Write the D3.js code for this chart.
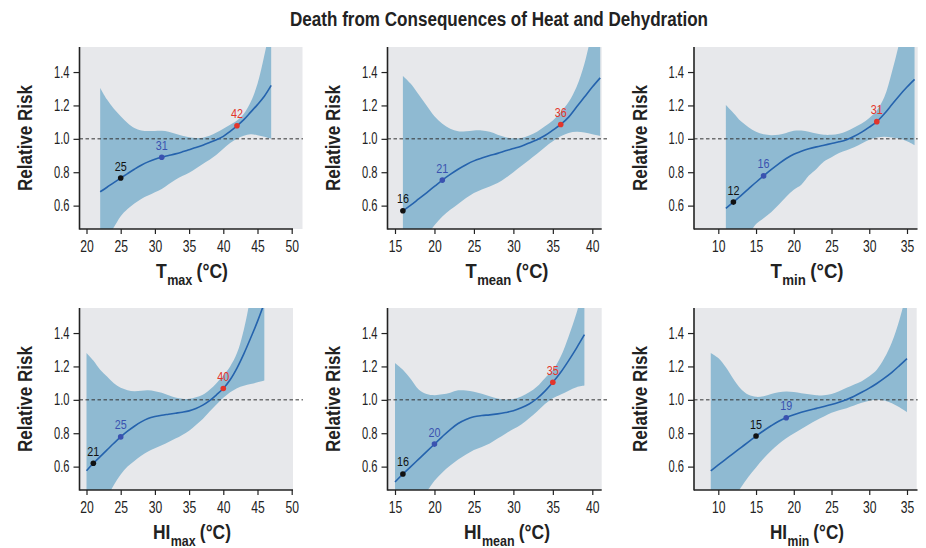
<!DOCTYPE html>
<html><head><meta charset="utf-8">
<script src="https://cdn.jsdelivr.net/npm/d3@7"></script>
<style>
body{margin:0;background:#fff;}
svg{display:block;}
</style></head><body>
<svg id="chart" width="926" height="548"></svg>
<script>
// Relative risk of death from heat and dehydration, with 95% confidence bands,
// for six temperature metrics (spline fits evaluated at whole degrees).

const titleText = "Death from Consequences of Heat and Dehydration";

const tmaxTemp  = [22,23,24,25,26,27,28,29,30,31,32,33,34,35,36,37,38,39,40,41,42,43,44,45,46,47];
const tmaxRR    = [0.683,0.71,0.738,0.765,0.792,0.818,0.842,0.862,0.878,0.89,0.9,0.91,0.922,0.935,0.948,0.962,0.978,0.995,1.015,1.045,1.078,1.115,1.16,1.205,1.255,1.32];
const tmaxLower = [0.33,0.40,0.47,0.537,0.58,0.613,0.64,0.66,0.68,0.70,0.728,0.755,0.777,0.797,0.823,0.85,0.875,0.905,0.94,0.975,1.0,1.018,1.027,1.022,1.012,1.0];
const tmaxUpper = [1.305,1.235,1.18,1.135,1.095,1.065,1.05,1.047,1.047,1.048,1.043,1.03,1.018,1.01,1.005,1.007,1.018,1.038,1.06,1.085,1.11,1.15,1.22,1.33,1.5,1.7];
const tmaxMarks = [25,31,42];

const tmeanTemp  = [16,17,18,19,20,21,22,23,24,25,26,27,28,29,30,31,32,33,34,35,36,37,38,39,40,41];
const tmeanRR    = [0.569,0.603,0.64,0.677,0.715,0.753,0.787,0.818,0.845,0.868,0.885,0.9,0.913,0.928,0.942,0.956,0.975,0.995,1.02,1.052,1.086,1.13,1.19,1.25,1.31,1.365];
const tmeanLower = [0.2,0.28,0.35,0.42,0.483,0.535,0.575,0.61,0.645,0.675,0.697,0.715,0.735,0.765,0.80,0.837,0.873,0.91,0.95,0.985,1.015,1.035,1.042,1.038,1.028,1.018];
const tmeanUpper = [1.377,1.33,1.265,1.2,1.135,1.09,1.06,1.045,1.045,1.05,1.05,1.042,1.025,1.01,1.003,1.005,1.02,1.043,1.075,1.11,1.16,1.22,1.31,1.45,1.65,1.85];
const tmeanMarks = [16,21,36];

const tminTemp  = [11,12,13,14,15,16,17,18,19,20,21,22,23,24,25,26,27,28,29,30,31,32,33,34,35,36];
const tminRR    = [0.583,0.621,0.66,0.70,0.74,0.778,0.815,0.85,0.882,0.908,0.925,0.94,0.952,0.962,0.972,0.982,0.995,1.015,1.04,1.07,1.103,1.15,1.205,1.26,1.31,1.356];
const tminLower = [0.2,0.28,0.35,0.42,0.49,0.525,0.56,0.605,0.653,0.695,0.725,0.78,0.82,0.865,0.89,0.915,0.932,0.95,0.972,0.995,1.008,1.012,1.008,1.0,0.985,0.962];
const tminUpper = [1.202,1.155,1.105,1.07,1.042,1.027,1.022,1.025,1.035,1.048,1.05,1.043,1.032,1.024,1.024,1.03,1.045,1.068,1.092,1.125,1.17,1.25,1.40,1.58,1.8,2.0];
const tminMarks = [12,16,31];

const himaxTemp  = [20,21,22,23,24,25,26,27,28,29,30,31,32,33,34,35,36,37,38,39,40,41,42,43,44,45,46];
const himaxRR    = [0.575,0.62,0.66,0.70,0.74,0.778,0.812,0.842,0.868,0.888,0.9,0.908,0.914,0.92,0.926,0.934,0.948,0.968,0.995,1.03,1.068,1.12,1.19,1.275,1.37,1.47,1.58];
const himaxLower = [0.3,0.34,0.38,0.42,0.49,0.553,0.6,0.633,0.665,0.69,0.71,0.728,0.748,0.768,0.79,0.815,0.85,0.885,0.93,0.972,1.012,1.045,1.07,1.085,1.095,1.105,1.116];
const himaxUpper = [1.28,1.235,1.18,1.14,1.1,1.072,1.058,1.052,1.055,1.057,1.052,1.043,1.028,1.014,1.006,1.006,1.015,1.03,1.06,1.1,1.145,1.2,1.28,1.42,1.62,1.82,2.0];
const himaxMarks = [21,25,40];

const himeanTemp  = [15,16,17,18,19,20,21,22,23,24,25,26,27,28,29,30,31,32,33,34,35,36,37,38,39];
const himeanRR    = [0.508,0.556,0.6,0.645,0.69,0.735,0.78,0.822,0.858,0.882,0.899,0.906,0.91,0.916,0.924,0.934,0.952,0.975,1.008,1.052,1.105,1.165,1.235,1.31,1.39];
const himeanLower = [0.25,0.3,0.35,0.4,0.45,0.515,0.565,0.606,0.642,0.672,0.7,0.718,0.738,0.768,0.797,0.825,0.853,0.89,0.93,0.975,1.01,1.032,1.055,1.076,1.086];
const himeanUpper = [1.221,1.18,1.125,1.062,1.035,1.028,1.033,1.043,1.057,1.056,1.048,1.036,1.022,1.008,1.002,1.005,1.02,1.045,1.08,1.13,1.178,1.26,1.38,1.52,1.7];
const himeanMarks = [16,20,35];

const himinTemp  = [9,10,11,12,13,14,15,16,17,18,19,20,21,22,23,24,25,26,27,28,29,30,31,32,33,34,35];
const himinRR    = [0.574,0.61,0.645,0.68,0.714,0.748,0.783,0.815,0.845,0.872,0.893,0.91,0.925,0.938,0.949,0.96,0.972,0.986,1.002,1.022,1.045,1.07,1.098,1.13,1.165,1.205,1.247];
const himinLower = [0.25,0.3,0.36,0.41,0.475,0.54,0.595,0.648,0.695,0.735,0.77,0.798,0.826,0.853,0.878,0.9,0.922,0.938,0.95,0.966,0.982,0.995,1.0,0.996,0.98,0.955,0.926];
const himinUpper = [1.281,1.25,1.195,1.125,1.065,1.03,1.018,1.022,1.035,1.045,1.05,1.047,1.04,1.033,1.027,1.028,1.035,1.052,1.072,1.092,1.112,1.141,1.18,1.25,1.345,1.48,1.65];
const himinMarks = [15,19];

const yTicks = [0.6, 0.8, 1.0, 1.2, 1.4];
const xTicksMax  = [20,25,30,35,40,45,50];
const xTicksMean = [15,20,25,30,35,40];
const xTicksMin  = [10,15,20,25,30,35];

const metricNames = ["T","T","T","HI","HI","HI"];
const metricSubs  = ["max","mean","min","max","mean","min"];
const yTitle = "Relative Risk";
const unitText = "(°C)";

// colours of the reference-point markers: low, mid, high percentile
const markColors = ["#111111", "#3a52b0", "#e2352b"];

const SANS = "'Liberation Sans',Arial,Helvetica,sans-serif";

// ---- layout ----
const rows = [{bottom: 229}, {bottom: 490}];
const plotH = 182;
const cols = [
  {left: 79.5,  t: [20, 50], p: [86.5, 291.7], grayRight: [302.5, 293],   axisRight: 293,   dashRight: 303,   yLabX: 32,    xLabX: 192},
  {left: 387.5, t: [15, 40], p: [395, 592.3],  grayRight: [601.7, 601.7], axisRight: 601.7, dashRight: 609,   yLabX: 340,   xLabX: 507},
  {left: 694,   t: [10, 35], p: [718.3, 907],  grayRight: [917.7, 916.7], axisRight: 917.5, dashRight: 917.7, yLabX: 646.5, xLabX: 807}
];
// condensed widths of the x-axis titles
const xTitleWidths = [72, 83, 73, 78, 86, 74];

const panels = [
  {temp: tmaxTemp,  rr: tmaxRR,  lo: tmaxLower,  hi: tmaxUpper,  marks: tmaxMarks,  ticks: xTicksMax},
  {temp: tmeanTemp, rr: tmeanRR, lo: tmeanLower, hi: tmeanUpper, marks: tmeanMarks, ticks: xTicksMean},
  {temp: tminTemp,  rr: tminRR,  lo: tminLower,  hi: tminUpper,  marks: tminMarks,  ticks: xTicksMin},
  {temp: himaxTemp, rr: himaxRR, lo: himaxLower, hi: himaxUpper, marks: himaxMarks, ticks: xTicksMax},
  {temp: himeanTemp,rr: himeanRR,lo: himeanLower,hi: himeanUpper,marks: himeanMarks,ticks: xTicksMean},
  {temp: himinTemp, rr: himinRR, lo: himinLower, hi: himinUpper, marks: himinMarks, ticks: xTicksMin}
];

const svg = d3.select("#chart");

svg.append("text")
  .attr("x", 499).attr("y", 25.5)
  .attr("text-anchor", "middle")
  .attr("font-family", SANS).attr("font-weight", "bold").attr("font-size", 20)
  .attr("fill", "#222")
  .attr("textLength", 418).attr("lengthAdjust", "spacingAndGlyphs")
  .text(titleText);

const defs = svg.append("defs");

panels.forEach((pd, i) => {
  const ri = Math.floor(i / 3), ci = i % 3;
  const c = cols[ci];
  const bottom = rows[ri].bottom, top = bottom - plotH;
  const right = c.grayRight[ri];

  const x = d3.scaleLinear().domain(c.t).range(c.p);
  const y = d3.scaleLinear().domain([0.46, 1.55]).range([bottom, top]);

  const g = svg.append("g");
  const clipId = "clip" + i;
  defs.append("clipPath").attr("id", clipId)
    .append("rect").attr("x", c.left).attr("y", top).attr("width", right - c.left).attr("height", bottom - top);

  // plot background
  g.append("rect").attr("x", c.left).attr("y", top)
    .attr("width", right - c.left).attr("height", bottom - top)
    .attr("fill", "#e7e8eb");

  const pts = pd.temp.map((t, k) => ({t, rr: pd.rr[k], lo: pd.lo[k], hi: pd.hi[k]}));
  const curve = d3.curveCatmullRom.alpha(0.5);

  // confidence band
  g.append("path").datum(pts)
    .attr("clip-path", `url(#${clipId})`)
    .attr("fill", "#8fbad2")
    .attr("d", d3.area().curve(curve).x(d => x(d.t)).y0(d => y(d.lo)).y1(d => y(d.hi)));

  // reference line at RR = 1
  g.append("line")
    .attr("x1", c.left).attr("x2", c.dashRight)
    .attr("y1", y(1)).attr("y2", y(1))
    .attr("stroke", "#333").attr("stroke-width", 1).attr("stroke-dasharray", "3.5,2.5");

  // fitted curve
  g.append("path").datum(pts)
    .attr("clip-path", `url(#${clipId})`)
    .attr("fill", "none").attr("stroke", "#2563ad").attr("stroke-width", 1.6)
    .attr("d", d3.line().curve(curve).x(d => x(d.t)).y(d => y(d.rr)));

  // percentile markers with their temperatures
  pd.marks.forEach((m, k) => {
    const rr = pd.rr[pd.temp.indexOf(m)];
    const col = markColors[k];
    g.append("circle").attr("cx", x(m)).attr("cy", y(rr)).attr("r", 2.8).attr("fill", col);
    g.append("text").attr("x", x(m)).attr("y", y(rr) - 7.5)
      .attr("text-anchor", "middle")
      .attr("font-family", SANS).attr("font-size", 12.5)
      .attr("textLength", 12).attr("lengthAdjust", "spacingAndGlyphs")
      .attr("fill", col)
      .text(m);
  });

  // axes
  const ya = g.append("g").attr("transform", `translate(${c.left},0)`)
    .call(d3.axisLeft(y).tickValues(yTicks).tickFormat(d3.format(".1f")).tickSize(6).tickPadding(4));
  const xa = g.append("g").attr("transform", `translate(0,${bottom})`)
    .call(d3.axisBottom(x).tickValues(pd.ticks).tickSize(5).tickPadding(7));
  [ya, xa].forEach(a => {
    a.select(".domain").remove();
    a.selectAll("line").attr("stroke", "#222").attr("stroke-width", 1.2);
    a.selectAll("text").attr("font-family", SANS).attr("font-size", 16).attr("fill", "#222")
      .attr("lengthAdjust", "spacingAndGlyphs");
  });
  ya.selectAll("text").attr("textLength", 15.5);
  xa.selectAll("text").attr("textLength", 13.5);

  g.append("line").attr("x1", c.left).attr("x2", c.left).attr("y1", top).attr("y2", bottom + 0.6)
    .attr("stroke", "#222").attr("stroke-width", 1.6);
  g.append("line").attr("x1", c.left).attr("x2", c.axisRight).attr("y1", bottom).attr("y2", bottom)
    .attr("stroke", "#222").attr("stroke-width", 1.6);

  // y-axis title
  svg.append("text")
    .attr("transform", `translate(${c.yLabX},${(top + bottom) / 2}) rotate(-90)`)
    .attr("text-anchor", "middle")
    .attr("font-family", SANS).attr("font-weight", "bold").attr("font-size", 21)
    .attr("fill", "#222")
    .attr("textLength", 106).attr("lengthAdjust", "spacingAndGlyphs")
    .text(yTitle);

  // x-axis title: symbol, subscript and unit laid out side by side, then condensed
  const lg = svg.append("g");
  const part = (txt, size, dx, dy) => lg.append("text")
    .attr("x", dx).attr("y", dy)
    .attr("font-family", SANS).attr("font-weight", "bold").attr("font-size", size)
    .attr("fill", "#222").text(txt);
  const p1 = part(metricNames[i], 21, 0, 0);
  const w1 = p1.node().getComputedTextLength() + 0.5;
  const p2 = part(metricSubs[i], 15, w1, 7);
  const w2 = p2.node().getComputedTextLength() + 5;
  const p3 = part(unitText, 21, w1 + w2, 0);
  const total = w1 + w2 + p3.node().getComputedTextLength();
  const s = xTitleWidths[i] / total;
  lg.attr("transform", `translate(${c.xLabX - xTitleWidths[i] / 2},${bottom + 49}) scale(${s},1)`);
});
</script>
</body></html>
